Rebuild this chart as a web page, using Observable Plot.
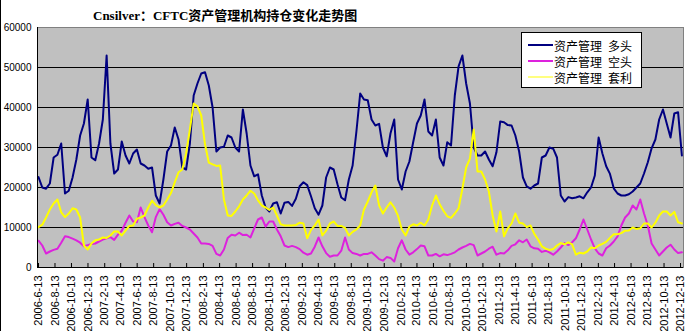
<!DOCTYPE html>
<html><head><meta charset="utf-8">
<script src="https://cdn.jsdelivr.net/npm/d3@7"></script>
<script src="https://cdn.jsdelivr.net/npm/@observablehq/plot@0.6"></script>
<style>
body{margin:0;background:#fff;}
#wrap{position:relative;width:686px;height:331px;overflow:hidden;background:#fff;}
#wrap svg{position:absolute;left:0;top:0;}
#edge{position:absolute;left:0;top:0;width:1px;height:331px;background:#000;}
#title{position:absolute;left:93px;top:5px;font:bold 13px "Liberation Serif","Noto Sans CJK SC",serif;color:#000;white-space:pre;}
#legend{position:absolute;left:521px;top:32px;width:119px;height:54px;background:#fff;border:1px solid #000;font:12px "Noto Sans CJK SC",sans-serif;color:#000;}
#legend .row{position:absolute;left:6px;height:16px;display:flex;align-items:center;white-space:pre;}
#legend .sw{width:25px;height:2px;margin-right:1px;}
</style></head>
<body><div id="wrap"><div id="edge"></div></div>
<script>
// series names
const seriesNames = ["资产管理\u2002多头", "资产管理\u2002空头", "资产管理\u2002套利"];
const seriesColors = ["#000080", "#dd22dd", "#ffff00"];
const titleText = "Cnsilver：CFTC资产管理机构持仓变化走势图";
// first report date, biweekly sampling (weekly CFTC data read every 2nd week)
const firstDate = "2006-06-13";
// values in thousands of contracts
const longK = [22.6,20,19.7,21,27.5,28.2,31,18.5,19.2,22.5,27,33,36,42,27.5,26.8,31,37,53,31,23.5,24.5,31.5,28,26,28.5,29.5,26,25.5,24.7,25,18,16,22,29,30.5,35,32,25,24.5,31,43,46,48.5,
48.8,45.5,40,29,30,30.2,33,32.5,30,29,39.5,33.5,25.5,22.8,23.3,18,15,14,16,16.3,13.5,16.2,16.4,15.4,17.2,20.3,21.3,20.6,17.8,14.8,13.2,15.5,22.5,25,24.5,20.8,17.5,16.8,22,25.5,34,43.5,42,
41.8,37,35.5,35.9,30,27.8,33.5,37,22,19.5,24,26.5,31.3,36,38,42,34,33,37,27.5,25.5,31.3,30.5,43,50.3,53,46,41,30,28,28,29,27,25.3,28.8,36.5,36.3,35.6,35.5,33,29,22.5,20.3,
19.7,20.5,21,27.5,28,30,29.7,27.5,18,16.5,17.6,17.3,17.5,17.8,17.3,18.8,20,23,32.5,28.5,25.3,23.4,19.8,18.5,18,18,18.3,19,20,21,23.5,26.3,29.8,32,37,39.5,36,32.5,38.5,38.8,28];
const shortK = [6.7,5.5,3.5,4,4.4,4.7,6.2,7.8,7.6,7.2,6.8,6.2,5.3,5.6,5.9,6,6.5,7,7.3,7.6,6.9,8.2,9.2,11.2,13,11.5,11.3,15,12.6,10.5,8.8,12.6,14.6,13.2,11.3,10.5,10.9,11.2,10.4,10,9.5,8.5,7.5,6,
6,5.9,5.4,3.4,3,4.5,7.4,8.2,8,8.7,8.1,8.2,7.5,9.8,12,12.5,10.2,11.5,11.5,9.5,7.8,5.5,5.1,5.4,5.1,4.6,3.7,3.2,3.5,5.2,7.5,5.3,3.6,2.7,3,3,4.2,7.5,4.5,3.6,3.4,3,3.4,
3.4,3.8,3,2.1,1.7,2.6,2.4,1.5,4.8,6.8,4.5,3.2,3.8,4.6,5.5,5.3,3,3,3.4,2.8,3.3,3.1,3.4,3.8,4.5,5,5.4,5.9,5.6,3,3.5,4,4.7,5.2,3.2,3.6,3.5,4.3,5.4,5.8,6.8,6.3,7,
5.3,4.8,4.7,3.9,4.2,3.8,3.2,4,5,6.1,5.6,6.3,7.3,9.5,12,9.5,7,4.8,3.5,3,4.8,5.5,6.5,7.8,10.5,12.5,13.5,15.5,14.5,17,13.5,10.5,6,4.5,3,4,5,5.7,4.5,3.6,3.8];
const spreadK = [10.1,10.7,12.5,14.5,16,17,13.8,12.6,13.5,14.8,14.5,12.5,5.5,4.5,6,6.8,7,7.5,7.4,8,9,9,8,9.2,10.4,10.5,12.2,12.5,13,15,16.7,15.6,15,15.5,17,18.6,21.3,23.8,24.5,28.5,34.5,41,40.3,38,
30.8,26.2,25.8,25.4,25.5,17,13,12.9,14,15.3,17,18,19.2,18.5,16.8,15.5,15,14.4,15,13,10.8,10.5,10.5,10.5,10.6,11.2,11,7.3,9.4,10.5,12,8,9.2,11,11.5,10.4,10.4,9.9,8,8.9,9.5,10.5,14.5,
16.5,18.8,20.5,15.5,13.5,15,16.3,15,12.9,9.5,8,10.2,10.8,10.5,11.2,10.5,12,15.5,18,15.8,14.2,12.8,12.4,13.5,14.8,19.7,25,27.2,34.5,24,24,22,19,13,9,14,7.8,9.8,11,13.5,11.2,11,10.1,
10.5,8.4,7,5.3,4.7,4.4,4.6,5.5,6.1,5.8,6.3,5.8,3.2,3.7,3.5,4,5,4.8,5.5,5.9,6.4,7.4,8.3,8.3,8.6,9.2,9.25,10,9.6,9.8,11,11,10,11.2,13,14,14,13,13.9,11.3,11];
const yTicks = [0,10000,20000,30000,40000,50000,60000];
const gridValues = [10000,20000,30000,40000,50000];
const xTickLabels = ["2006-6-13","2006-8-13","2006-10-13","2006-12-13","2007-2-13","2007-4-13","2007-6-13","2007-8-13","2007-10-13","2007-12-13",
"2008-2-13","2008-4-13","2008-6-13","2008-8-13","2008-10-13","2008-12-13","2009-2-13","2009-4-13","2009-6-13","2009-8-13",
"2009-10-13","2009-12-13","2010-2-13","2010-4-13","2010-6-13","2010-8-13","2010-10-13","2010-12-13","2011-2-13","2011-4-13",
"2011-6-13","2011-8-13","2011-10-13","2011-12-13","2012-2-13","2012-4-13","2012-6-13","2012-8-13","2012-10-13","2012-12-13"];
const xDomainStrings = ["2006-06-09T07:00", "2012-12-24"];

const parseDash = s => { const [y,m,d] = s.split("-").map(Number); return new Date(y, m-1, d); };
const start = parseDash(firstDate);
const dates = longK.map((_, k) => d3.timeDay.offset(start, 14 * k));
const tickDates = xTickLabels.map(parseDash);
const labelOf = new Map(tickDates.map((d, i) => [+d, xTickLabels[i]]));
const rows = [];
[longK, shortK, spreadK].forEach((arr, s) => arr.forEach((v, k) => rows.push({date: dates[k], value: v * 1000, series: seriesNames[s]})));

const chart = Plot.plot({
  width: 686, height: 331,
  marginLeft: 37, marginRight: 3, marginTop: 27, marginBottom: 64,
  style: {fontFamily: "'Liberation Sans', sans-serif", fontSize: "11px", background: "transparent", color: "#000"},
  x: {type: "time", domain: xDomainStrings.map(s => new Date(s))},
  y: {domain: [0, 60000]},
  color: {domain: seriesNames, range: seriesColors},
  marks: [
    Plot.frame({fill: "#c0c0c0", stroke: "#808080"}),
    Plot.ruleY(gridValues, {stroke: "#000", strokeWidth: 1}),
    Plot.line(rows, {x: "date", y: "value", z: "series", stroke: "series", strokeWidth: 2}),
    Plot.ruleY([0], {stroke: "#000"}),
    Plot.ruleX([new Date(xDomainStrings[0])], {stroke: "#000"}),
    Plot.tickX(tickDates, {stroke: "#000", insetTop: 236}),
    Plot.axisY({ticks: yTicks, tickSize: 0, tickPadding: 6, tickFormat: d => String(d), label: null, fontSize: 10}),
    Plot.axisX({ticks: tickDates, tickSize: 0, tickPadding: 8, tickRotate: -90, tickFormat: d => labelOf.get(+d), label: null, fontSize: 11})
  ]
});
const wrap = document.getElementById("wrap");
wrap.insertBefore(chart, wrap.firstChild);

const t = document.createElement("div"); t.id = "title"; t.textContent = titleText; wrap.appendChild(t);
const lg = document.createElement("div"); lg.id = "legend";
seriesNames.forEach((n, i) => {
  const r = document.createElement("div"); r.className = "row"; r.style.top = (4 + i * 16) + "px";
  const sw = document.createElement("span"); sw.className = "sw"; sw.style.background = i === 2 ? "#ffff80" : seriesColors[i];
  const tx = document.createElement("span"); tx.textContent = n;
  r.appendChild(sw); r.appendChild(tx); lg.appendChild(r);
});
wrap.appendChild(lg);
</script>
</body></html>
